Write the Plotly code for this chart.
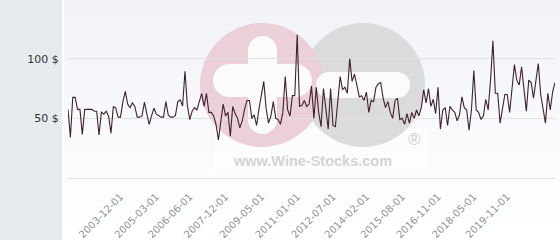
import plotly.graph_objects as go

# ---------------- data ----------------
values = [
    57.5, 34, 67.6, 67.6, 57.5, 57.5, 36.6, 57.5, 57.5, 57.5,
    57.5, 56, 56, 36, 55.5, 53.5, 56, 52, 37.5, 60,
    58.5, 51, 51, 64, 72.6, 62, 59, 63, 60, 51,
    51, 52, 63.5, 54, 45, 52, 58.5, 53.5, 52.5, 51,
    51, 64, 52.8, 51, 51, 52.5, 64, 65.5, 60.4, 89.5,
    61, 49, 56, 59, 57, 64, 71, 60, 71, 55,
    55, 52, 45, 32, 45, 62, 52, 55, 35, 60,
    54, 50, 42, 48, 58, 65, 65, 50, 53, 44,
    58, 69, 81, 58, 46, 52, 64, 50, 49, 45,
    55, 85, 57, 52, 69, 69, 120, 60, 61, 65,
    60, 62, 77, 50, 76, 55, 43, 75, 58, 41,
    75, 44, 43, 62, 85, 74, 76, 71, 100, 81,
    87, 78, 68, 69, 65, 72, 55, 65, 64, 76,
    79, 80, 67, 59, 64, 55, 50, 65, 67, 49,
    50, 45, 54, 46, 55, 50, 57, 52, 59, 74,
    63, 75, 60, 66, 54, 76, 41, 57, 59, 44,
    60, 57, 55, 48, 53, 68, 59, 57, 40, 57,
    90, 57, 55, 49, 52, 66, 57, 82, 115, 71,
    71, 46, 60, 70, 70, 55, 75, 95, 82, 78,
    93, 75, 56, 82, 80, 67, 80, 96, 70, 57,
    46, 71, 57, 72, 80,
]
tick_index = [22, 37, 51, 66, 81, 96, 111, 125, 140, 155, 170, 184]
tick_labels = ["2003-12-01", "2005-03-01", "2006-06-01", "2007-12-01",
               "2009-05-01", "2011-01-01", "2012-07-01", "2014-02-01",
               "2015-08-01", "2016-11-01", "2018-05-01", "2019-11-01"]
y_ticks = [0, 50, 100]
y_labels = ["", "50 $", "100 $"]

# ---------------- geometry helpers (layout only) ----------------
W, H = 560, 240
L, R, T, B = 68, 5, 10, 58
PW, PH = W - L - R, H - T - B


def px(X):
    return (X - L) / PW


def py(Y):
    return (H - B - Y) / PH


def rect(x0, y0, x1, y1, color, kind="rect", opacity=1.0):
    return dict(type=kind, xref="paper", yref="paper",
                x0=px(x0), x1=px(x1), y0=py(y1), y1=py(y0),
                fillcolor=color, line=dict(width=0), layer="below",
                opacity=opacity)


shapes = []
# left grey panel
shapes.append(rect(0, 0, 62, 240, "#e7eaee"))
# vertical gradient background of chart area
n = 30
for k in range(n):
    t = k / (n - 1)
    r = round(241 + (255 - 241) * t)
    g = round(243 + (255 - 243) * t)
    b = round(248 + (255 - 248) * t)
    shapes.append(rect(64, 240 * k / n, 560, 240 * (k + 1) / n + 0.5,
                       f"rgb({r},{g},{b})"))
# watermark
shapes.append(rect(214, 128, 428, 174, "#ffffff", opacity=0.45))
shapes.append(rect(301, 23, 425, 147, "#dbdbdb", kind="circle"))
shapes.append(rect(200, 23, 324, 147, "#ebd0d7", kind="circle"))
wh = "#fbfbfc"
# plus sign (pink)
shapes.append(rect(248, 50.5, 277, 119.5, wh))
shapes.append(rect(248, 36, 277, 65, wh, kind="circle"))
shapes.append(rect(248, 105, 277, 134, wh, kind="circle"))
shapes.append(rect(229.5, 64, 295.5, 97, wh))
shapes.append(rect(213, 64, 246, 97, wh, kind="circle"))
shapes.append(rect(279, 64, 312, 97, wh, kind="circle"))
# minus sign (grey)
shapes.append(rect(329, 72, 397, 98, wh))
shapes.append(rect(316, 72, 342, 98, wh, kind="circle"))
shapes.append(rect(384, 72, 410, 98, wh, kind="circle"))

annotations = [
    dict(text="www.Wine-Stocks.com", xref="paper", yref="paper",
         x=px(312), y=py(161), xanchor="center", yanchor="middle",
         showarrow=False,
         font=dict(family="Liberation Sans", size=14.5, color="#d4d4d4",
                   weight="bold")),
    dict(text="®", xref="paper", yref="paper",
         x=px(414), y=py(139), xanchor="center", yanchor="middle",
         showarrow=False,
         font=dict(family="Liberation Sans", size=17, color="#d0d0d0")),
]

fig = go.Figure()
fig.add_trace(go.Scatter(
    x=list(range(len(values))), y=values, mode="lines",
    line=dict(color="#40202e", width=1.1), hoverinfo="skip",
))

fig.update_layout(
    width=W, height=H,
    margin=dict(l=L, r=R, t=T, b=B, pad=0, autoexpand=False),
    paper_bgcolor="#ffffff",
    plot_bgcolor="rgba(0,0,0,0)",
    showlegend=False,
    font=dict(family="DejaVu Sans"),
    shapes=shapes,
    annotations=annotations,
    xaxis=dict(
        automargin=False,
        range=[0, len(values) - 1], showgrid=False, zeroline=False,
        showline=False, tickmode="array", tickvals=tick_index,
        ticktext=tick_labels, tickangle=-45,
        tickfont=dict(family="DejaVu Sans", size=10, color="#929292"),
        ticks="outside", ticklen=4, tickcolor="rgba(0,0,0,0)",
    ),
    yaxis=dict(
        automargin=False,
        range=[-3.35, 140.8], showgrid=True, gridcolor="#e1e1e8", gridwidth=1,
        zeroline=False, showline=False, tickmode="array",
        tickvals=y_ticks, ticktext=y_labels,
        tickfont=dict(family="DejaVu Sans", size=11, color="#333333"),
        ticks="outside", ticklen=6, tickcolor="rgba(0,0,0,0)",
    ),
)

fig.write_html("out.html", config={"displayModeBar": False})
